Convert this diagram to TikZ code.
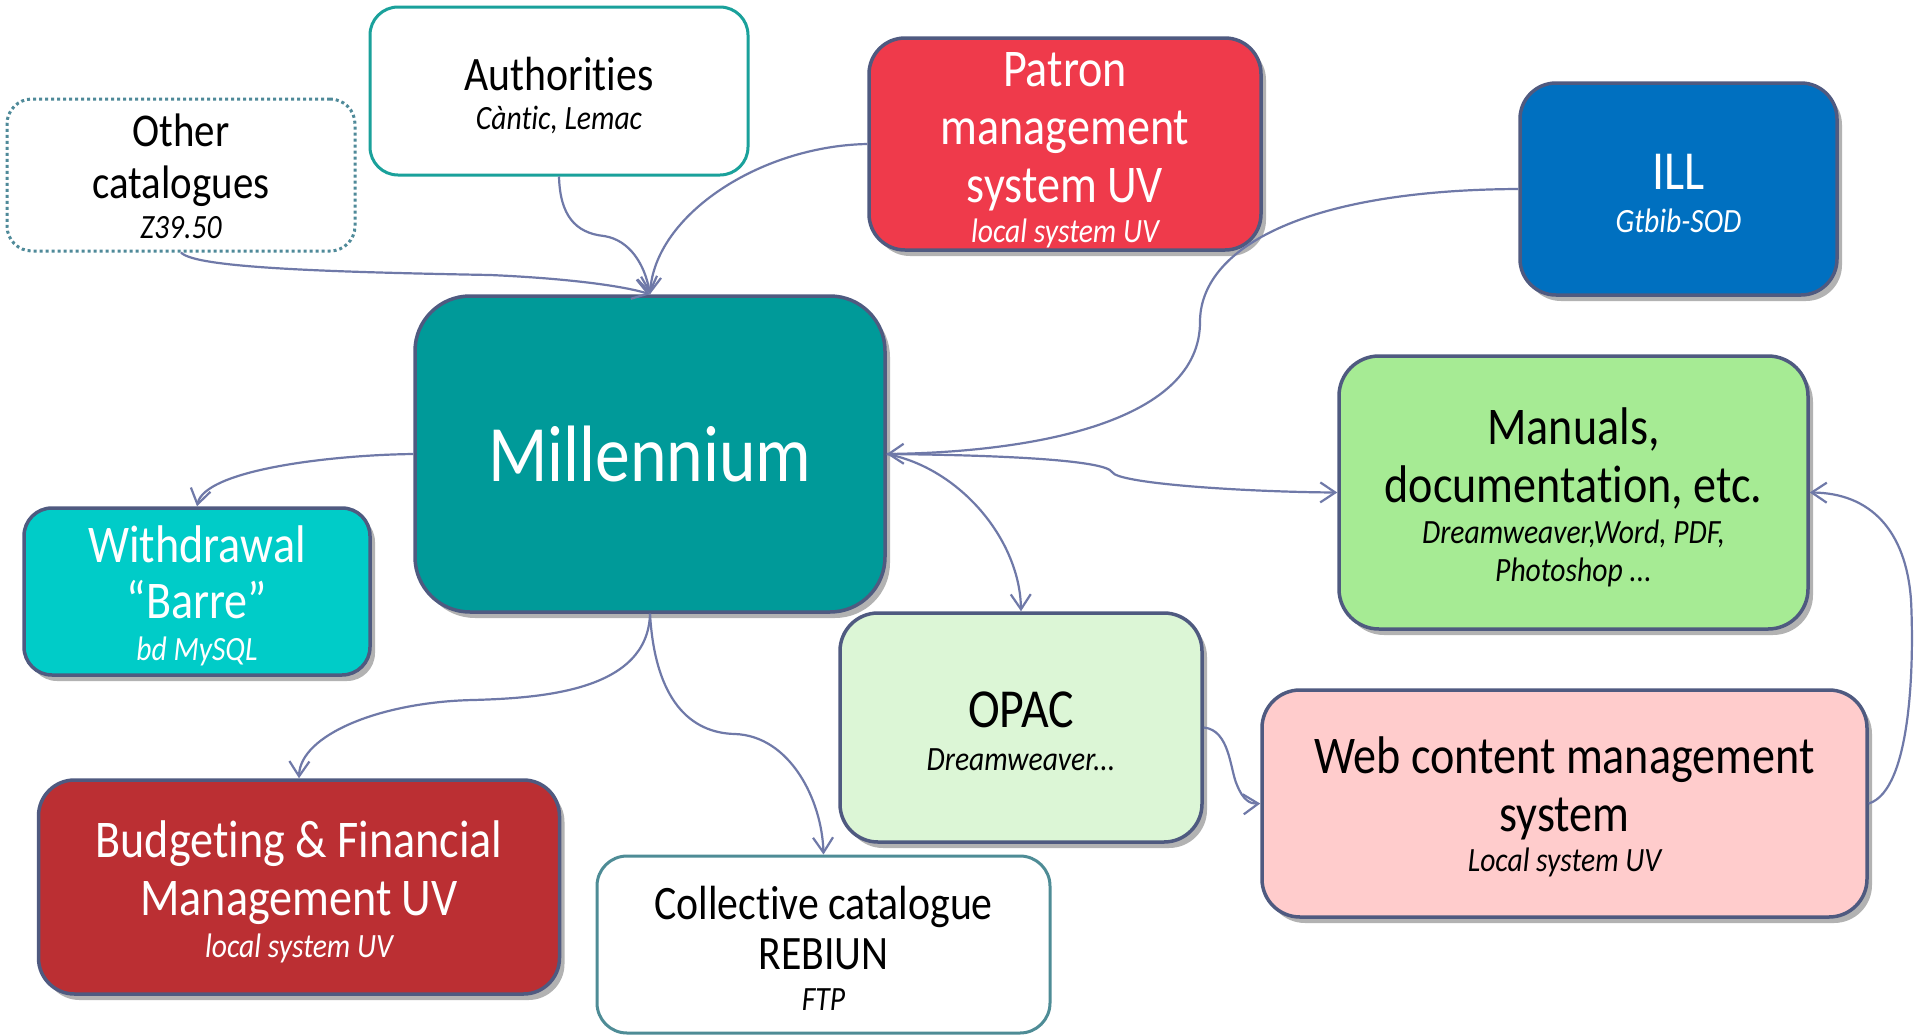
\documentclass[tikz,border=0pt]{standalone}
\usepackage{fontspec}
\setmainfont{Carlito}[FakeStretch=0.87,Ligatures={TeX,NoCommon}]
\usetikzlibrary{shadows,arrows.meta}
\definecolor{edge}{HTML}{4F5A80}
\definecolor{connc}{HTML}{6F79A8}
\definecolor{milc}{HTML}{009A99}
\definecolor{patc}{HTML}{EF3A4B}
\definecolor{illc}{HTML}{0070C0}
\definecolor{manc}{HTML}{A6EB94}
\definecolor{wdc}{HTML}{00CCC8}
\definecolor{opc}{HTML}{DCF6D6}
\definecolor{webc}{HTML}{FFCCCC}
\definecolor{budc}{HTML}{BB2F33}
\definecolor{authc}{HTML}{1AA19B}
\definecolor{dotc}{HTML}{4F8A99}
\definecolor{colc}{HTML}{4E8C96}
\newcommand\subtxt[1]{{\fontsize{34}{40}\selectfont\itshape #1}}
\newcommand\tstrut[1]{\rule{0pt}{#1}}
\begin{document}
\begin{tikzpicture}[x=1pt,y=-1pt,
  box/.style={rectangle, rounded corners=#1, inner sep=0pt, align=center,
    line width=3.5pt, draw=edge, font=\fontsize{53}{58}\selectfont},
  box/.default=36pt,
  boxshadow/.style={drop shadow={shadow xshift=5pt,shadow yshift=-6pt,opacity=0.3,fill=black}},
  conn/.style={draw=connc, line width=2.2pt, -{Straight Barb[length=15pt,width=20pt]}}]
\fill[white] (0,0) rectangle (1915,1034);
\useasboundingbox (0,0) rectangle (1915,1034);

% boxes
\node[box=25pt, draw=dotc, line width=3pt, dash pattern=on 3pt off 3pt,
  font=\fontsize{47}{52}\selectfont, minimum width=348pt, minimum height=152pt]
  (oc) at (181,175) {\tstrut{36pt}Other\\catalogues\\[-12pt]\subtxt{Z39.50}};
\node[box=28pt, draw=authc, line width=3pt, font=\fontsize{48}{52}\selectfont,
  minimum width=378pt, minimum height=168pt]
  (au) at (559,91) {\tstrut{42pt}Authorities\\[-13pt]\subtxt{Càntic, Lemac}};
\node[box=36pt, boxshadow, fill=patc, text=white, minimum width=392pt, minimum height=212pt]
  (pa) at (1065,144) {\tstrut{46pt}Patron\\management\\system UV\\[-18pt]\subtxt{local system UV}};
\node[box=36pt, boxshadow, fill=illc, text=white, font=\fontsize{55}{58}\selectfont,
  minimum width=317pt, minimum height=212pt]
  (il) at (1678.5,189) {\tstrut{44pt}ILL\\[-15pt]\subtxt{Gtbib-SOD}};
\node[box=55pt, boxshadow, fill=milc, text=white, font=\fontsize{80}{90}\selectfont,
  minimum width=470pt, minimum height=316pt]
  (mil) at (650,454) {Millennium};
\node[box=40pt, boxshadow, fill=manc, minimum width=469pt, minimum height=273pt]
  (ma) at (1573.5,492.5) {\tstrut{46pt}Manuals,\\documentation, etc.\\[-17pt]\subtxt{Dreamweaver,Word, PDF,}\\[-20pt]\subtxt{Photoshop ...}};
\node[box=28pt, boxshadow, fill=wdc, text=white, minimum width=346pt, minimum height=167pt]
  (wd) at (197,591.5) {\tstrut{46pt}Withdrawal\\[-2pt]“Barre”\\[-16pt]\subtxt{bd MySQL}};
\node[box=38pt, boxshadow, fill=opc, font=\fontsize{55}{58}\selectfont,
  minimum width=362pt, minimum height=229pt]
  (op) at (1021,727.5) {\tstrut{44pt}OPAC\\[-15pt]\subtxt{Dreamweaver...}};
\node[box=38pt, boxshadow, fill=webc, minimum width=605pt, minimum height=227pt]
  (we) at (1564.5,803.5) {\tstrut{44pt}Web content management\\system\\[-18pt]\subtxt{Local system UV}};
\node[box=36pt, boxshadow, fill=budc, text=white, minimum width=521pt, minimum height=214pt]
  (bu) at (299,887) {\tstrut{46pt}Budgeting \& Financial\\Management UV\\[-16pt]\subtxt{local system UV}};
\node[box=30pt, draw=colc, line width=3pt, font=\fontsize{48}{50}\selectfont,
  minimum width=453pt, minimum height=177pt]
  (co) at (823.5,944.5) {\tstrut{40pt}Collective catalogue\\REBIUN\\[-9pt]\subtxt{FTP}};

% connectors
\draw[conn] (oc.south) .. controls (195,268) and (330,272) .. (490,275)
  .. controls (560,278) and (620,285) .. (mil.north);
\draw[conn] (au.south) .. controls (560,215) and (575,233) .. (604,236)
  .. controls (630,240) and (645,265) .. (mil.north);
\draw[conn] (pa.west) .. controls (760,146) and (655,215) .. (mil.north);
\draw[conn] (il.west) .. controls (1300,190) and (1200,250) .. (1200,322)
  .. controls (1200,420) and (1040,452) .. (mil.east);
\draw[conn] (mil.east) .. controls (1000,455) and (1105,460) .. (1112,472)
  .. controls (1118,484) and (1250,492) .. (ma.west);
\draw[conn] (mil.east) .. controls (960,468) and (1020,540) .. (op.north);
\draw[conn] (mil.west) .. controls (330,455) and (205,470) .. (wd.north);
\draw[conn] (mil.south) .. controls (648,690) and (545,698) .. (473,700)
  .. controls (380,702) and (300,735) .. (bu.north);
\draw[conn] (mil.south) .. controls (655,700) and (690,733) .. (735,734)
  .. controls (790,736) and (822,800) .. (co.north);
\draw[conn] (op.east) .. controls (1230,730) and (1230,770) .. (1237,785)
  .. controls (1243,800) and (1250,804) .. (we.west);
\draw[conn] (we.east) .. controls (1912,790) and (1914,660) .. (1911,600)
  .. controls (1906,530) and (1870,493) .. (ma.east);
\end{tikzpicture}
\end{document}
